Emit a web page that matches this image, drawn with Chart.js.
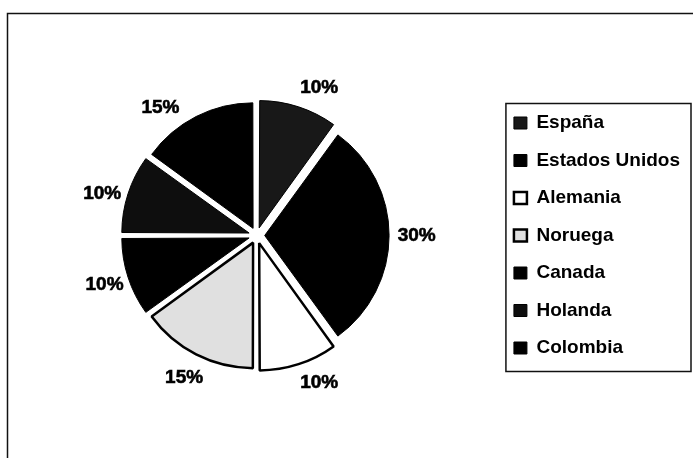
<!DOCTYPE html>
<html>
<head>
<meta charset="utf-8">
<script src="https://cdn.jsdelivr.net/npm/chart.js@4/dist/chart.umd.min.js"></script>
<style>
  html, body { margin: 0; padding: 0; background: #fff; }
  #wrap { width: 693px; height: 458px; }
</style>
</head>
<body>
<div id="wrap"><canvas id="pie-chart"></canvas></div>
<script>
var paises = ["España", "Estados Unidos", "Alemania", "Noruega", "Canada", "Holanda", "Colombia"];
var porcentajes = [10, 30, 10, 15, 10, 10, 15];

var rellenos = ["#181818", "#000000", "#ffffff", "#e0e0e0", "#000000", "#0e0e0e", "#000000"];
var bordes = [1, 1, 2.5, 2.5, 1, 1, 1];
var fuente = "'Liberation Sans', Arial, sans-serif";

// marco exterior y recuadro de la leyenda
var marcos = {
  id: 'marcos',
  beforeDraw: function(chart) {
    var ctx = chart.ctx;
    ctx.save();
    ctx.fillStyle = '#fff';
    ctx.fillRect(0, 0, chart.width, chart.height);
    ctx.strokeStyle = '#111';
    ctx.lineWidth = 1.5;
    ctx.strokeRect(7.5, 13.5, chart.width + 10, chart.height + 10);
    ctx.restore();
  },
  afterDraw: function(chart) {
    var lg = chart.legend;
    if (!lg || !lg.legendHitBoxes.length) return;
    var cajas = lg.legendHitBoxes;
    var primera = cajas[0], ultima = cajas[cajas.length - 1];
    var ctx = chart.ctx;
    ctx.save();
    ctx.strokeStyle = '#111';
    ctx.lineWidth = 1.5;
    var x0 = primera.left - 8, y0 = primera.top - 10;
    var x1 = lg.right + 1, y1 = ultima.top + ultima.height + 14;
    ctx.strokeRect(x0, y0, x1 - x0, y1 - y0);
    ctx.restore();
  }
};

// porcentajes fuera de cada porción
var etiquetas = {
  id: 'etiquetas',
  afterDatasetsDraw: function(chart, args, opts) {
    var ctx = chart.ctx;
    var meta = chart.getDatasetMeta(0);
    var datos = chart.data.datasets[0].data;
    var total = datos.reduce(function(a, b) { return a + b; }, 0);
    ctx.save();
    ctx.font = opts.font;
    ctx.fillStyle = '#000';
    ctx.strokeStyle = '#000';
    ctx.lineWidth = 0.6;
    ctx.textAlign = 'center';
    ctx.textBaseline = 'middle';
    meta.data.forEach(function(arc, i) {
      var p = arc.getProps(['x', 'y', 'startAngle', 'endAngle', 'outerRadius'], true);
      var giro = (opts.giro[i] || 0) * Math.PI / 180;
      var medio = (p.startAngle + p.endAngle) / 2 + giro;
      // el arco se dibuja desplazado offset/4 hacia fuera
      var r = p.outerRadius + arc.options.offset / 4 + opts.distancia;
      var texto = Math.round(datos[i] / total * 100) + '%';
      var x = p.x + Math.cos(medio) * r, y = p.y + Math.sin(medio) * r;
      ctx.fillText(texto, x, y);
      ctx.strokeText(texto, x, y);
    });
    ctx.restore();
  }
};

new Chart(document.getElementById("pie-chart"), {
  type: 'pie',
  data: {
    labels: paises,
    datasets: [{
      data: porcentajes,
      backgroundColor: rellenos,
      borderColor: '#000',
      borderWidth: bordes,
      offset: 32,
      radius: 124
    }]
  },
  options: {
    responsive: true,
    maintainAspectRatio: false,
    animation: false,
    layout: { padding: { left: 18, right: 3, top: 17, bottom: 4 } },
    plugins: {
      tooltip: { enabled: false },
      legend: {
        position: 'right',
        labels: {
          boxWidth: 13,
          boxHeight: 12,
          padding: 18.5,
          color: '#000',
          font: { family: fuente, size: 19, weight: 'bold' }
        }
      },
      etiquetas: {
        font: "bold 19px " + fuente,
        distancia: 28,
        giro: { 0: 5, 2: -5, 5: -3, 6: -10 }
      }
    }
  },
  plugins: [marcos, etiquetas]
});
</script>
</body>
</html>
